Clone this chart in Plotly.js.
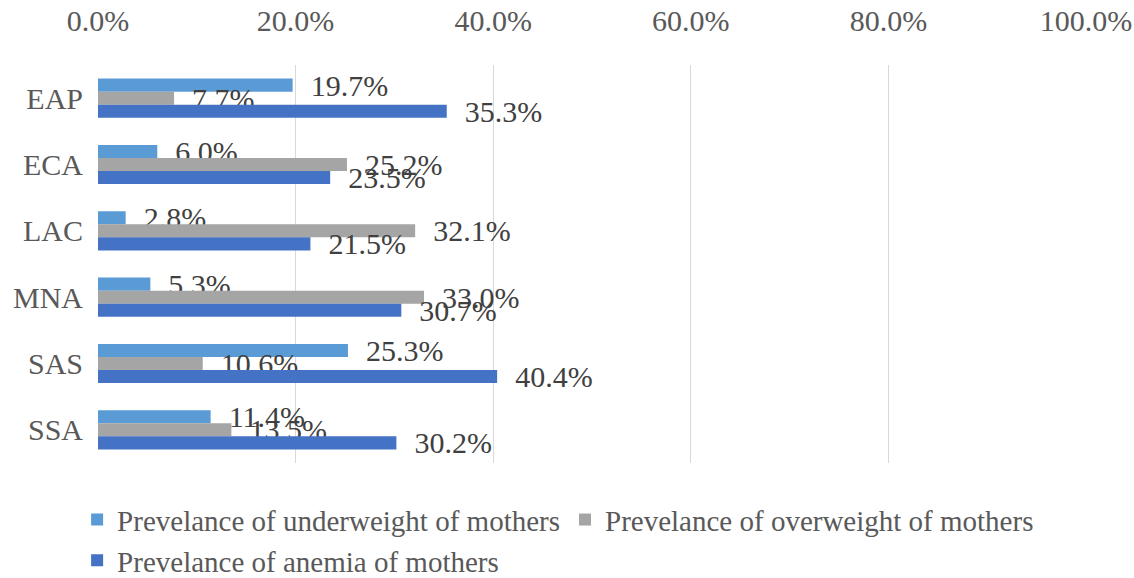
<!DOCTYPE html>
<html>
<head>
<meta charset="utf-8">
<script src="https://cdn.plot.ly/plotly-3.0.1.min.js"></script>
<style>html,body{margin:0;padding:0;background:#fff;}#chart{width:1134px;height:578px;}</style>
</head>
<body>
<div id="chart"></div>
<script>
const regions = ["EAP", "ECA", "LAC", "MNA", "SAS", "SSA"];
const underweight = [0.197, 0.060, 0.028, 0.053, 0.253, 0.114];
const overweight = [0.077, 0.252, 0.321, 0.330, 0.106, 0.135];
const anemia = [0.353, 0.235, 0.215, 0.307, 0.404, 0.302];
const seriesNames = [
  "Prevelance of underweight of mothers",
  "Prevelance of overweight of mothers",
  "Prevelance of anemia of mothers"
];
const seriesColors = ["#5B9BD5", "#A5A5A5", "#4472C4"];
const xTickVals = [0, 0.2, 0.4, 0.6, 0.8, 1.0];

const FONT = "Liberation Serif";
const pad = "\u00a0\u00a0";
function mk(vals, i) {
  return {
    type: "bar",
    orientation: "h",
    y: regions,
    x: vals,
    name: seriesNames[i],
    marker: {color: seriesColors[i]},
    text: vals.map(v => pad + (v * 100).toFixed(1) + "%"),
    textposition: "outside",
    constraintext: "none",
    cliponaxis: false,
    textfont: {family: FONT, size: 30, color: "#404040"},
    hoverinfo: "skip"
  };
}
const data = [mk(underweight, 0), mk(overweight, 1), mk(anemia, 2)];

const layout = {
  width: 1134, height: 578,
  margin: {l: 98, r: 48, t: 65, b: 115},
  paper_bgcolor: "#fff", plot_bgcolor: "#fff",
  barmode: "group",
  bargap: 0.41, bargroupgap: 0,
  font: {family: FONT, size: 30, color: "#595959"},
  xaxis: {
    side: "top", range: [0, 1], tickvals: xTickVals, tickformat: ".1%",
    showgrid: true, gridcolor: "#D9D9D9", gridwidth: 1.3,
    zeroline: false, showline: false, ticks: "",
    ticklabelstandoff: 27,
    tickfont: {family: FONT, size: 30, color: "#595959"}
  },
  yaxis: {
    autorange: "reversed", showgrid: false, zeroline: false, showline: false,
    ticks: "", ticklabelstandoff: 14,
    tickfont: {family: FONT, size: 30, color: "#595959"}
  },
  showlegend: true,
  legend: {
    orientation: "h", x: 0.068, xref: "container", xanchor: "left",
    y: 0.145, yref: "container", yanchor: "top",
    font: {family: FONT, size: 29, color: "#595959"},
    traceorder: "normal", itemclick: false
  }
};
Plotly.newPlot("chart", data, layout, {displayModeBar: false, staticPlot: true});
</script>
</body>
</html>
